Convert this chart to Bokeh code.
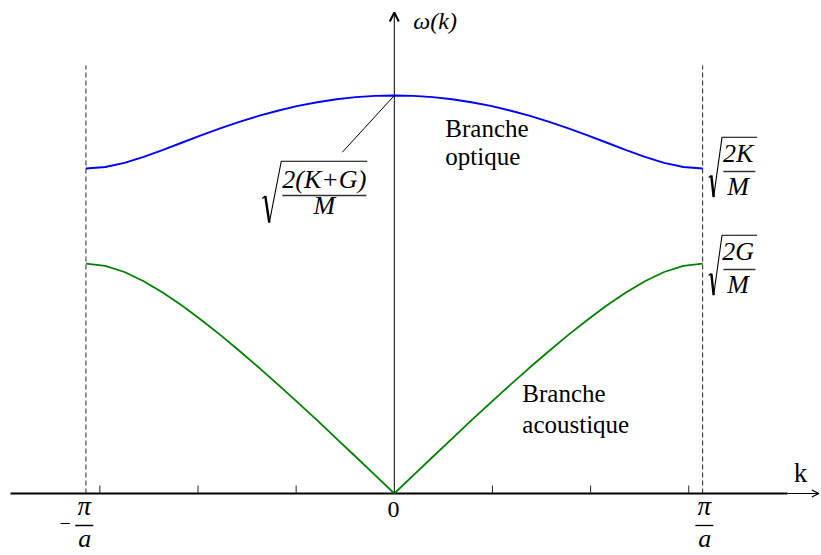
from bokeh.plotting import figure
from bokeh.models import Range1d, Arrow, OpenHead
from bokeh.core.properties import value
from bokeh.embed import file_html
from bokeh.resources import INLINE

# ---------------- data (a = 1, K = 2G) ----------------
K_VALUES = [-3.142, -2.945, -2.749, -2.553, -2.356, -2.160, -1.963, -1.767, -1.571, -1.374, -1.178,
            -0.982, -0.785, -0.589, -0.393, -0.196, 0.0, 0.196, 0.393, 0.589, 0.785, 0.982, 1.178,
            1.374, 1.571, 1.767, 1.963, 2.160, 2.356, 2.553, 2.749, 2.945, 3.142]
OPTIQUE = [2.000, 2.009, 2.035, 2.072, 2.115, 2.160, 2.205, 2.248, 2.288, 2.325, 2.357,
           2.385, 2.408, 2.426, 2.439, 2.447, 2.449, 2.447, 2.439, 2.426, 2.408, 2.385, 2.357,
           2.325, 2.288, 2.248, 2.205, 2.160, 2.115, 2.072, 2.035, 2.009, 2.000]
ACOUSTIQUE = [1.414, 1.401, 1.363, 1.306, 1.235, 1.155, 1.066, 0.973, 0.874, 0.772, 0.667,
              0.559, 0.450, 0.338, 0.226, 0.113, 0.000, 0.113, 0.226, 0.338, 0.450, 0.559, 0.667,
              0.772, 0.874, 0.973, 1.066, 1.155, 1.235, 1.306, 1.363, 1.401, 1.414]
K_MIN, K_MAX = -3.1416, 3.1416          # -pi/a, pi/a (Brillouin zone edges)
MINOR_TICKS = [-3, -2, -1, 1, 2, 3]
TICK_ZERO_LABEL = "0"
W_MAX = 2.449                            # sqrt(2(K+G)/M)
W_OPT_EDGE = 2.000                       # sqrt(2K/M)
W_AC_EDGE = 1.414                        # sqrt(2G/M)

# ---------------- layout ----------------
W, H = 821, 555
PX_K = 98.15      # pixels per unit of k
PX_W = 162.5      # pixels per unit of omega
ORIG_X, ORIG_Y = 393.8, 493.0   # origin position inside the figure (px)
TEXT_DY = -9      # baseline correction for text (px, negative = up)

x0 = -ORIG_X / PX_K
x1 = (W - ORIG_X) / PX_K
y0 = -(H - ORIG_Y) / PX_W
y1 = ORIG_Y / PX_W


def at(anchor, dxp, dyp):
    """anchor in data units, offset in screen pixels (dyp positive = down)"""
    return anchor[0] + dxp / PX_K, anchor[1] - dyp / PX_W


SERIF = value("Liberation Serif")

p = figure(width=W, height=H, x_range=Range1d(x0, x1), y_range=Range1d(y0, y1),
           output_backend="svg", toolbar_location=None,
           x_axis_type=None, y_axis_type=None, min_border=0,
           outline_line_color=None, background_fill_color="white",
           border_fill_color="white")


def txt(anchor, dxp, dyp, s, size, italic=False, align="left"):
    x, y = at(anchor, dxp, dyp + TEXT_DY)
    p.text([x], [y], text=[s], text_font=SERIF,
           text_font_style="italic" if italic else "normal",
           text_font_size=f"{size}px", text_align=align,
           text_baseline="alphabetic", text_color="black")


# dashed zone boundaries
DASH_TOP = at((0, 0), 0, -428)[1]
p.segment(x0=[K_MIN, K_MAX], y0=[0, 0], x1=[K_MIN, K_MAX], y1=[DASH_TOP, DASH_TOP],
          line_color="#222222", line_width=1, line_dash="5 3")

# x axis (thick part + thin arrow part)
xa_left = at((0, 0), -383.8, 0)[0]
xa_thick_end = at((0, 0), 393.2, 0)[0]
xa_tip = at((0, 0), 424.5, 0)[0]
p.line([xa_left, xa_thick_end], [0, 0], line_color="black", line_width=2)
p.add_layout(Arrow(end=OpenHead(size=7, line_width=1.2, line_color="black"),
                   x_start=xa_thick_end, y_start=0, x_end=xa_tip, y_end=0,
                   line_color="black", line_width=1))

# y axis with arrow
ya_tip = at((0, 0), 0, -481)[1]
p.add_layout(Arrow(end=OpenHead(size=9, line_width=2, line_color="black"),
                   x_start=0, y_start=0, x_end=0, y_end=ya_tip,
                   line_color="black", line_width=1))

# minor ticks
tick_len = 8 / PX_W
p.segment(x0=MINOR_TICKS, y0=[0] * len(MINOR_TICKS), x1=MINOR_TICKS,
          y1=[tick_len] * len(MINOR_TICKS), line_color="#222222", line_width=1)

# curves
p.line(K_VALUES, OPTIQUE, line_color="#0000ff", line_width=1.9)
p.line(K_VALUES, ACOUSTIQUE, line_color="#008000", line_width=1.8)

# ---------------- axis labels ----------------
txt((0, ya_tip), 19, 17, "ω(k)", 24, italic=True)
txt((xa_tip, 0), -25, -12, "k", 27)

# tick labels
txt((0, 0), -0.8, 25, TICK_ZERO_LABEL, 24, align="center")


def pi_over_a(anchor, dx, minus):
    txt(anchor, dx, 21, "π", 27, italic=True, align="center")
    txt(anchor, dx + 0.5, 54, "a", 26, italic=True, align="center")
    bx0, by = at(anchor, dx - 9, 32)
    bx1, _ = at(anchor, dx + 9, 32)
    p.line([bx0, bx1], [by, by], line_color="black", line_width=1.3)
    if minus:
        txt(anchor, dx - 19, 38, "−", 20, align="center")


pi_over_a((K_MIN, 0), -1.7, True)
pi_over_a((K_MAX, 0), 1.7, False)


# ---------------- radical labels ----------------
def radical(anchor, num, den, hook, peak, bottom, top_left, top_right, num_c, bar_y, bar_x0, bar_x1, den_base):
    pts = [at(anchor, *hook), at(anchor, *peak)]
    p.line([q[0] for q in pts], [q[1] for q in pts], line_color="black", line_width=1.2)
    pts = [at(anchor, *peak), at(anchor, *bottom)]
    p.line([q[0] for q in pts], [q[1] for q in pts], line_color="black", line_width=2.4)
    pts = [at(anchor, *bottom), at(anchor, *top_left), at(anchor, *top_right)]
    p.line([q[0] for q in pts], [q[1] for q in pts], line_color="black", line_width=1.1)
    b0 = at(anchor, bar_x0, bar_y)
    b1 = at(anchor, bar_x1, bar_y)
    p.line([b0[0], b1[0]], [b0[1], b1[1]], line_color="#333333", line_width=1.4)
    txt(anchor, num_c[0], num_c[1], num, 26, italic=True, align="center")
    txt(anchor, num_c[0], den_base, den, 26, italic=True, align="center")


top = (0, W_MAX)
# leader line from the maximum
lend = at(top, -52, 56.7)
p.line([0, lend[0]], [W_MAX, lend[1]], line_color="black", line_width=1)
radical(top, "2(K+G)", "M",
        hook=(-132, 103), peak=(-129, 100.5), bottom=(-125, 127),
        top_left=(-113, 65.7), top_right=(-27, 65.7),
        num_c=(-70, 93), bar_y=100, bar_x0=-112, bar_x1=-28, den_base=119)

opt = (K_MAX, W_OPT_EDGE)
radical(opt, "2K", "M",
        hook=(6, 9), peak=(8.7, 7), bottom=(11, 28.7),
        top_left=(19.4, -31.3), top_right=(54.4, -31.3),
        num_c=(35.5, -6), bar_y=3, bar_x0=20.7, bar_x1=52.7, den_base=27)

ac = (K_MAX, W_AC_EDGE)
radical(ac, "2G", "M",
        hook=(6, 11.8), peak=(8.7, 9.8), bottom=(11, 31.5),
        top_left=(19.4, -28.5), top_right=(54.4, -28.5),
        num_c=(35.5, -3.2), bar_y=5.8, bar_x0=20.7, bar_x1=52.7, den_base=29.8)

# ---------------- branch names ----------------
txt(top, 51, 42, "Branche", 25)
txt(top, 51, 70, "optique", 25)
txt((0, 0), 128, -91, "Branche", 25)
txt((0, 0), 128, -60, "acoustique", 25)

open("out.html", "w").write(file_html(p, INLINE))
